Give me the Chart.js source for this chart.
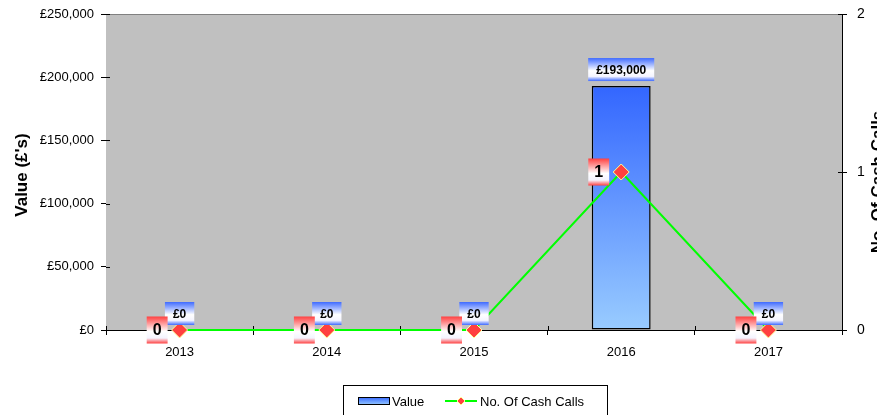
<!DOCTYPE html>
<html>
<head>
<meta charset="utf-8">
<script src="https://cdn.jsdelivr.net/npm/chart.js@4/dist/chart.umd.min.js"></script>
<style>
  html, body { margin: 0; padding: 0; background: #fff; }
  #wrap { width: 877px; height: 415px; }
</style>
</head>
<body>
<div id="wrap"><canvas id="chart" width="877" height="415"></canvas></div>
<script>
const years = ["2013", "2014", "2015", "2016", "2017"];
const values = [0, 0, 0, 193000, 0];
const cashCalls = [0, 0, 0, 1, 0];
const valueMax = 250000;
const valueStep = 50000;
const callsMax = 2;

const FONT = "'Liberation Sans', Arial, sans-serif";

function money(v) {
  return "£" + Number(v).toLocaleString("en-GB");
}

function boxGradient(ctx, top, bottom, edge) {
  const g = ctx.createLinearGradient(0, top, 0, bottom);
  g.addColorStop(0, edge);
  g.addColorStop(0.55, "#ffffff");
  g.addColorStop(0.8, "#f4f4ff");
  g.addColorStop(1, edge);
  return g;
}

// grey plot background
const plotBackground = {
  id: "plotBackground",
  beforeDatasetsDraw(chart) {
    const { ctx, chartArea: a } = chart;
    ctx.save();
    ctx.fillStyle = "#c0c0c0";
    ctx.fillRect(a.left, a.top, a.right - a.left, a.bottom - a.top);
    ctx.strokeStyle = "#808080";
    ctx.lineWidth = 1;
    ctx.beginPath();
    ctx.moveTo(a.left, a.top + 0.5);
    ctx.lineTo(a.right, a.top + 0.5);
    ctx.stroke();

    // tick marks reach a little way into the plot too
    ctx.strokeStyle = "#000";
    ctx.beginPath();
    chart.scales.y.ticks.forEach((t) => {
      const py = Math.round(chart.scales.y.getPixelForValue(t.value)) + 0.5;
      ctx.moveTo(a.left, py);
      ctx.lineTo(a.left + 4, py);
    });
    chart.scales.y1.ticks.forEach((t) => {
      const py = Math.round(chart.scales.y1.getPixelForValue(t.value)) + 0.5;
      ctx.moveTo(a.right - 4, py);
      ctx.lineTo(a.right, py);
    });
    const xs = chart.scales.x;
    for (let i = 0; i <= years.length; i++) {
      const px = Math.round(xs.left + (xs.width * i) / years.length) + 0.5;
      ctx.moveTo(px, a.bottom - 4);
      ctx.lineTo(px, a.bottom);
    }
    ctx.stroke();
    ctx.restore();
  }
};

// data label boxes
const labelBoxes = {
  id: "labelBoxes",
  afterDatasetsDraw(chart) {
    const ctx = chart.ctx;
    ctx.save();
    ctx.textAlign = "center";
    ctx.textBaseline = "middle";

    // value labels above bars
    ctx.font = "bold 12px " + FONT;
    chart.getDatasetMeta(0).data.forEach((el, i) => {
      const text = money(values[i]);
      const w = ctx.measureText(text).width + 16;
      const h = 23;
      const bottom = el.y - 5;
      const top = bottom - h;
      ctx.fillStyle = boxGradient(ctx, top, bottom, "#3f6bff");
      ctx.fillRect(el.x - w / 2, top, w, h);
      ctx.fillStyle = "#000";
      ctx.fillText(text, el.x, top + h / 2 + 1);
    });

    // cash call count labels left of points
    ctx.font = "bold 16px " + FONT;
    chart.getDatasetMeta(1).data.forEach((el, i) => {
      const text = String(cashCalls[i]);
      const w = ctx.measureText(text).width + 12;
      const h = 27;
      const right = el.x - 12;
      const top = el.y - h / 2;
      ctx.fillStyle = boxGradient(ctx, top, top + h, "#ff4040");
      ctx.fillRect(right - w, top, w, h);
      ctx.fillStyle = "#000";
      ctx.fillText(text, right - w / 2, el.y + 1);
    });
    ctx.restore();
  }
};

// axis titles and legend
const extras = {
  id: "extras",
  afterDraw(chart) {
    const ctx = chart.ctx;
    ctx.save();
    ctx.fillStyle = "#000";
    ctx.font = "bold 17px " + FONT;
    ctx.textAlign = "center";
    ctx.textBaseline = "middle";

    ctx.save();
    ctx.translate(22, 175);
    ctx.rotate(-Math.PI / 2);
    ctx.fillText("Value (£'s)", 0, 0);
    ctx.restore();

    ctx.save();
    ctx.translate(878, 182);
    ctx.rotate(-Math.PI / 2);
    ctx.fillText("No. Of Cash Calls", 0, 0);
    ctx.restore();

    // legend
    const lx = 343, ly = 385, lw = 264, lh = 40;
    ctx.fillStyle = "#fff";
    ctx.fillRect(lx, ly, lw, lh);
    ctx.strokeStyle = "#000";
    ctx.lineWidth = 1;
    ctx.strokeRect(lx + 0.5, ly + 0.5, lw, lh);

    const cy = 401;
    const sg = ctx.createLinearGradient(0, cy - 4, 0, cy + 4);
    sg.addColorStop(0, "#3366ff");
    sg.addColorStop(1, "#99ccff");
    ctx.fillStyle = sg;
    ctx.fillRect(358, cy - 4, 31, 8);
    ctx.strokeStyle = "#000";
    ctx.strokeRect(358.5, cy - 3.5, 31, 7);

    ctx.font = "13px " + FONT;
    ctx.textAlign = "left";
    ctx.fillStyle = "#000";
    ctx.fillText(chart.data.datasets[0].label, 392, cy + 1);

    ctx.strokeStyle = "#00ff00";
    ctx.lineWidth = 2;
    ctx.beginPath();
    ctx.moveTo(445, cy);
    ctx.lineTo(477, cy);
    ctx.stroke();
    ctx.fillStyle = "#ff4040";
    ctx.strokeStyle = "#ffff99";
    ctx.lineWidth = 1;
    ctx.beginPath();
    ctx.moveTo(461, cy - 4);
    ctx.lineTo(465, cy);
    ctx.lineTo(461, cy + 4);
    ctx.lineTo(457, cy);
    ctx.closePath();
    ctx.fill();
    ctx.stroke();

    ctx.fillStyle = "#000";
    ctx.fillText(chart.data.datasets[1].label, 480, cy + 1);
    ctx.restore();
  }
};

const ctxChart = document.getElementById("chart").getContext("2d");
const chart = new Chart(ctxChart, {
  type: "bar",
  data: {
    labels: years,
    datasets: [
      {
        label: "Value",
        data: values,
        yAxisID: "y",
        order: 1,
        backgroundColor: function (context) {
          const c = context.chart;
          if (!c.chartArea) return "#3366ff";
          const top = c.scales.y.getPixelForValue(Math.max(...values));
          const g = c.ctx.createLinearGradient(0, top, 0, c.chartArea.bottom);
          g.addColorStop(0, "#3366ff");
          g.addColorStop(1, "#99ccff");
          return g;
        },
        borderColor: "#000",
        borderWidth: 1.5,
        borderSkipped: false,
        categoryPercentage: 1,
        barPercentage: 0.4,
      },
      {
        type: "line",
        label: "No. Of Cash Calls",
        data: cashCalls,
        yAxisID: "y1",
        order: 0,
        borderColor: "#00ff00",
        borderWidth: 2,
        pointStyle: "rectRot",
        pointRadius: 8,
        pointBackgroundColor: "#ff4040",
        pointBorderColor: "#ffff99",
        pointBorderWidth: 1,
        tension: 0,
        clip: false,
      },
    ],
  },
  options: {
    responsive: false,
    animation: false,
    layout: { padding: { top: 14, left: 0, right: 0, bottom: 0 } },
    plugins: {
      legend: { display: false },
      tooltip: { enabled: false },
    },
    scales: {
      x: {
        grid: { drawOnChartArea: false, color: "#000", tickLength: 5, offset: true },
        border: { color: "#000" },
        ticks: { color: "#000", font: { family: FONT, size: 13 }, padding: 10 },
        afterFit: (scale) => { scale.height = 85; },
      },
      y: {
        position: "left",
        min: 0,
        max: valueMax,
        grid: { drawOnChartArea: false, color: "#000", tickLength: 5 },
        border: { color: "#000" },
        ticks: {
          stepSize: valueStep,
          color: "#000",
          font: { family: FONT, size: 13 },
          padding: 7,
          callback: (v) => money(v),
        },
        afterFit: (scale) => {
          scale.width = 106;
          scale.paddingTop = 0;
          scale.paddingBottom = 0;
        },
      },
      y1: {
        position: "right",
        min: 0,
        max: callsMax,
        grid: { drawOnChartArea: false, color: "#000", tickLength: 5 },
        border: { color: "#000" },
        ticks: {
          stepSize: 1,
          color: "#000",
          font: { family: FONT, size: 14 },
          padding: 10,
        },
        afterFit: (scale) => {
          scale.width = 35;
          scale.paddingTop = 0;
          scale.paddingBottom = 0;
        },
      },
    },
  },
  plugins: [plotBackground, labelBoxes, extras],
});
</script>
</body>
</html>
